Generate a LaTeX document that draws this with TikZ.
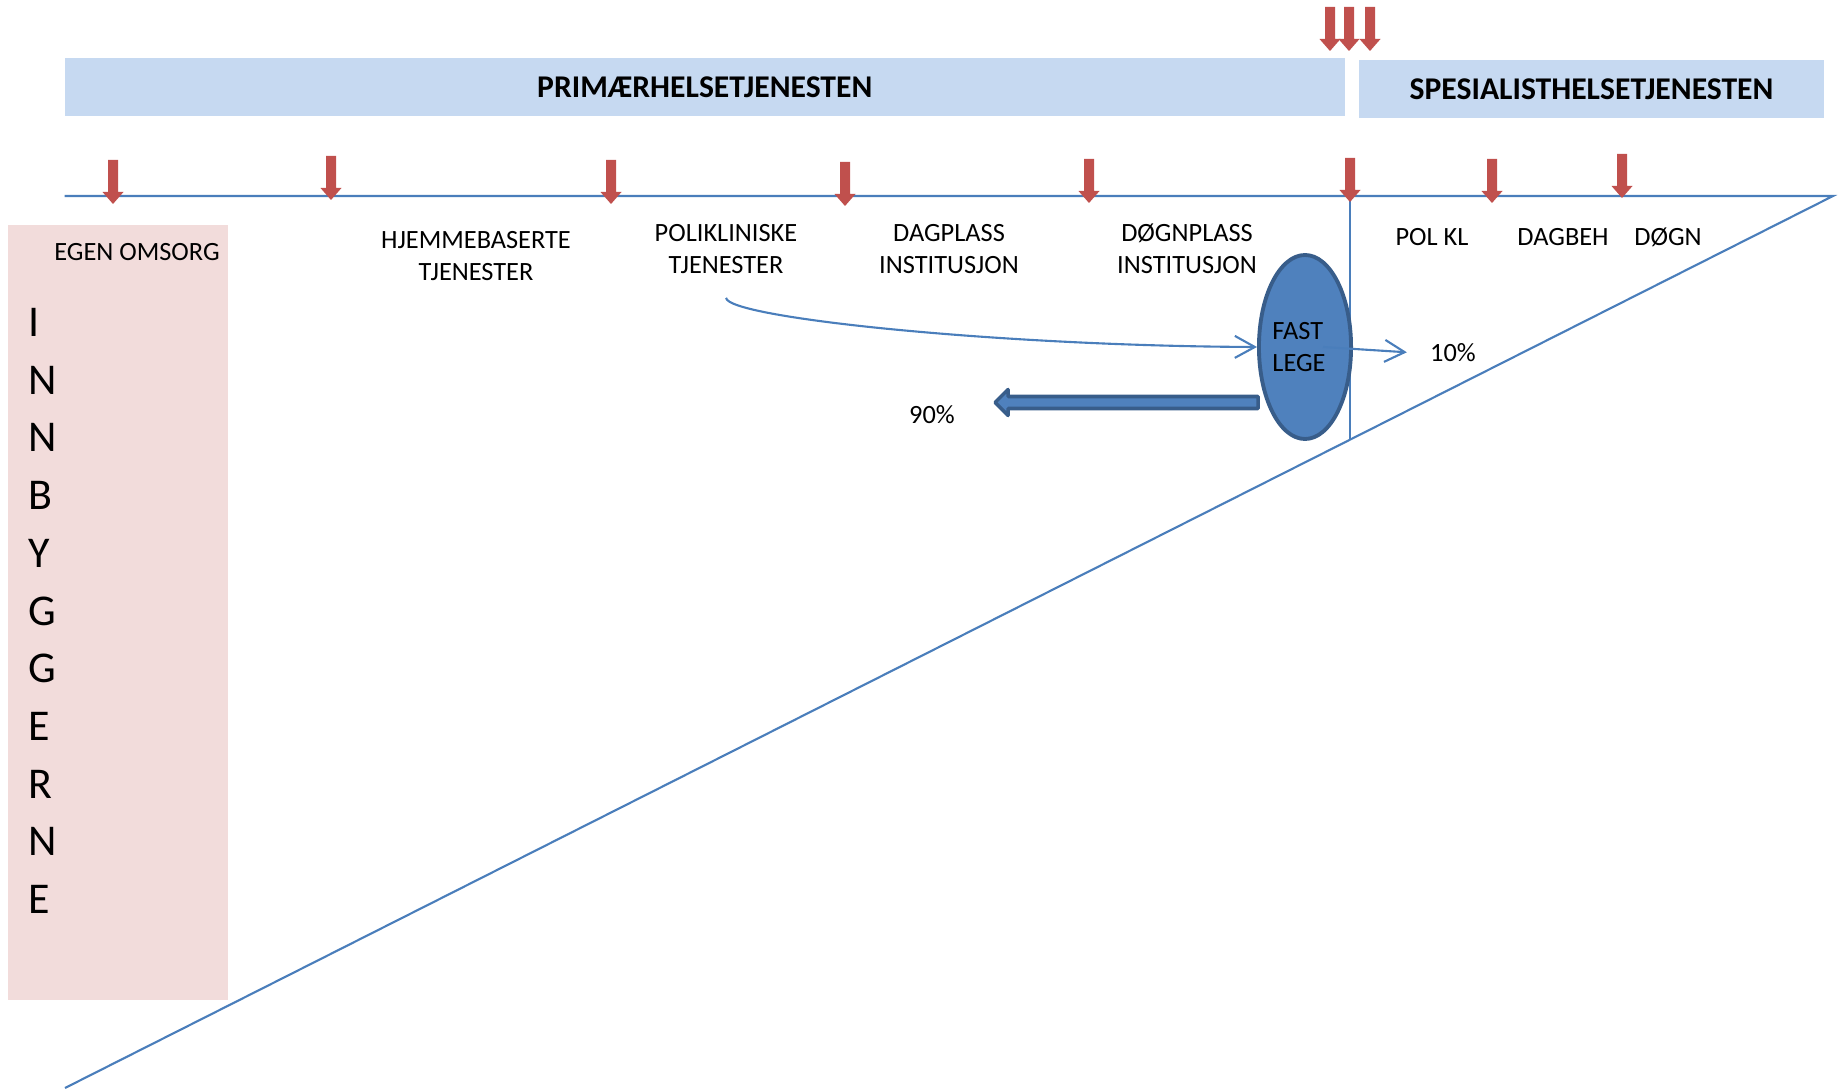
\documentclass[tikz,border=0pt]{standalone}
\usepackage{fontspec}
\setmainfont{Carlito}
\usetikzlibrary{positioning}
\usetikzlibrary{shapes.geometric}
\usetikzlibrary{arrows.meta}

\definecolor{bannerblaa}{RGB}{198,217,241}
\definecolor{rosa}{RGB}{242,220,219}
\definecolor{rodpil}{RGB}{192,80,77}
\definecolor{linje}{RGB}{74,126,187}
\definecolor{legefyll}{RGB}{79,129,189}
\definecolor{legekant}{RGB}{56,93,138}

\begin{document}
\begin{tikzpicture}[
  tekst/.style={font=\fontsize{7.5}{9}\selectfont,align=center},
  topptekst/.style={font=\fontsize{9}{11}\selectfont\bfseries,fill=bannerblaa,inner sep=0,minimum height=0.58cm},
  tynn/.style={draw=linje,line width=0.6pt},
  spiss/.style={-{Straight Barb[length=2mm,width=2.2mm]}},
  pics/pil/.style={code={\fill[rodpil] (0,0) -- (0.105,0.12) -- (0.05,0.12) -- (0.05,0.44) -- (-0.05,0.44) -- (-0.05,0.12) -- (-0.105,0.12) -- cycle;}}
]
\useasboundingbox (0,0) rectangle (18.39,10.88);

% bannere
\node[topptekst,minimum width=12.805cm] (primaer) at (7.0475,10.01) {PRIMÆRHELSETJENESTEN};
\node[topptekst,minimum width=4.65cm] (spesialist) at (15.915,9.99) {SPESIALISTHELSETJENESTEN};
\pic at (13.30,10.37) {pil};
\pic at (13.49,10.37) {pil};
\pic at (13.70,10.37) {pil};

% innbyggerne
\fill[rosa] (0.08,0.88) rectangle (2.28,8.63);
\node[tekst] (egen) at (1.37,8.36) {EGEN OMSORG};
\node[font=\fontsize{12.5}{16.42}\selectfont,align=left,anchor=west,inner sep=0] (innbyggerne) at (0.28,4.77) {I\\N\\N\\B\\Y\\G\\G\\E\\R\\N\\E};

% linjer
\coordinate (venstre) at (0.645,8.92);
\coordinate (hoyre) at (18.33,8.92);
\coordinate (bunn) at (0.65,0);
\coordinate (skille) at (13.50,8.92);
\coordinate (skillebunn) at (13.50,6.48);
\draw[tynn] (venstre) -- (hoyre) -- (bunn);
\draw[tynn] (skille) -- (skillebunn);

\pic at (1.13,8.84) {pil};
\pic at (3.31,8.88) {pil};
\pic at (6.11,8.84) {pil};
\pic at (8.45,8.82) {pil};
\pic at (10.89,8.85) {pil};
\pic at (13.50,8.86) {pil};
\pic at (14.92,8.85) {pil};
\pic at (16.22,8.90) {pil};

% tjenester
\node[tekst] (hjemme) at (4.76,8.32) {HJEMMEBASERTE\\TJENESTER};
\node[tekst] (poli) at (7.26,8.39) {POLIKLINISKE\\TJENESTER};
\node[tekst] (dagplass) at (9.49,8.39) {DAGPLASS\\INSTITUSJON};
\node[tekst] (dognplass) at (11.87,8.39) {DØGNPLASS\\INSTITUSJON};
\node[tekst] (polkl) at (14.32,8.51) {POL KL};
\node[tekst] (dagbeh) at (15.63,8.51) {DAGBEH};
\node[tekst] (dogn) at (16.68,8.51) {DØGN};

% fastlege
\node[ellipse,fill=legefyll,draw=legekant,line width=1.1pt,minimum width=0.91cm,minimum height=1.84cm,inner sep=0,tekst,align=left] (lege) at (13.05,7.41) {FAST\hspace*{0.12cm}\\LEGE\hspace*{0.12cm}};
\node[tekst] (pst10) at (14.53,7.35) {10\%};
\node[tekst] (pst90) at (9.32,6.73) {90\%};

\draw[tynn,spiss] ([yshift=-0.12cm]poli.south) .. controls (7.28,7.70) and (10.0,7.42) .. (lege.west);
\draw[tynn,spiss,shorten >=0.11cm] ([xshift=0.18cm]lege.center) -- (pst10.west);
\draw[fill=legefyll,draw=legekant,line width=1pt,line join=round] (12.58,6.915) -- (10.08,6.915) -- (10.08,6.985) -- (9.95,6.855) -- (10.08,6.725) -- (10.08,6.795) -- (12.58,6.795) -- cycle;

\end{tikzpicture}
\end{document}
